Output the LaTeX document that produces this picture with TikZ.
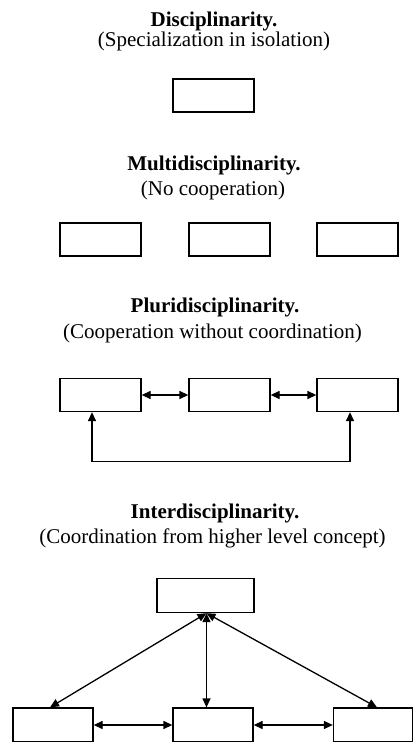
\documentclass[tikz,border=0pt]{standalone}
\usepackage{fontspec}
\setmainfont{Liberation Serif}
\usetikzlibrary{arrows.meta}
\begin{document}
\begin{tikzpicture}[x=1pt,y=-1pt,
  box/.style={draw, line width=1.3pt, inner sep=0pt, minimum width=81pt, minimum height=33pt},
  ttl/.style={anchor=base, inner sep=0pt, font=\fontsize{21}{21}\selectfont\bfseries},
  sub/.style={anchor=base, inner sep=0pt, font=\fontsize{21}{21}\selectfont},
  conn/.style={line width=1.3pt, {Triangle[length=9pt,width=8pt]}-{Triangle[length=9pt,width=8pt]}}]
\useasboundingbox (0,0) rectangle (413,742);
% Disciplinarity
\node[ttl] (t1) at (214,26) {Disciplinarity.};
\node[sub] (s1) at (214,46.5) {(Specialization in isolation)};
\node[box] (d) at (213.5,95.5) {};
% Multidisciplinarity
\node[ttl] (t2) at (214,170) {Multidisciplinarity.};
\node[sub] (s2) at (213,195) {(No cooperation)};
\node[box] (m1) at (100.5,239.5) {};
\node[box] (m2) at (229.5,239.5) {};
\node[box] (m3) at (357.5,239.5) {};
% Pluridisciplinarity
\node[ttl] (t3) at (215,312) {Pluridisciplinarity.};
\node[sub] (s3) at (212.5,338) {(Cooperation without coordination)};
\node[box] (p1) at (100.5,395) {};
\node[box] (p2) at (229.5,395) {};
\node[box] (p3) at (357.5,395) {};
\draw[conn] (p1.east) -- (p2.west);
\draw[conn] (p2.east) -- (p3.west);
\coordinate (pa) at ([xshift=-8.5pt]p1.south);
\coordinate (pb) at ([xshift=-7.5pt]p3.south);
\draw[conn] (pa) -- ++(0,49) -| (pb);
% Interdisciplinarity
\node[ttl] (t4) at (215,518) {Interdisciplinarity.};
\node[sub] (s4) at (212.5,543) {(Coordination from higher level concept)};
\node[box, minimum width=97pt, minimum height=34pt] (i0) at (205.5,595.5) {};
\node[box, minimum width=80pt, minimum height=34pt] (i1) at (53,725) {};
\node[box, minimum width=80pt, minimum height=34pt] (i2) at (213,725) {};
\node[box, minimum width=79pt, minimum height=34pt] (i3) at (373,725) {};
\coordinate (ib) at ([xshift=1pt]i0.south);
\draw[conn] (ib) -- ([xshift=-3pt]i1.north);
\draw[conn] (ib) -- (ib |- i2.north);
\draw[conn] (ib) -- ([xshift=4pt]i3.north);
\draw[conn] (i1.east) -- (i2.west);
\draw[conn] (i2.east) -- (i3.west);
\end{tikzpicture}
\end{document}
